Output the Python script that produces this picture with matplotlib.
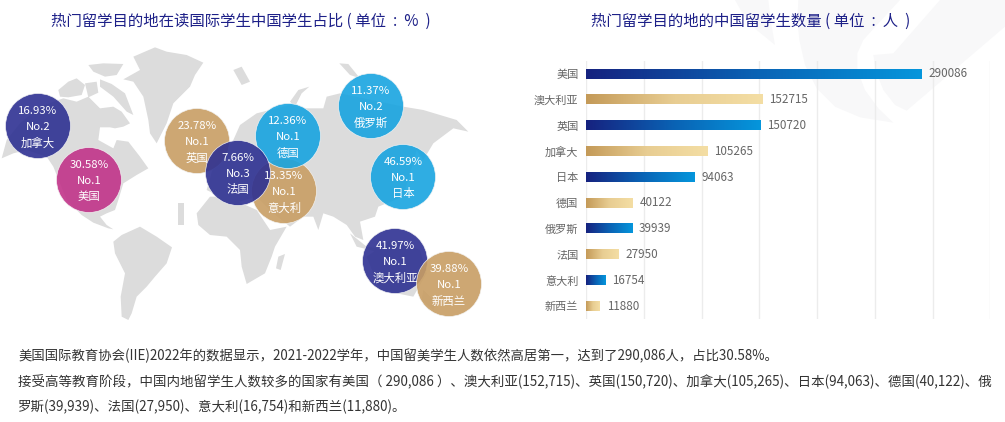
import numpy as np
import matplotlib
matplotlib.use("Agg")
import matplotlib.pyplot as plt
from matplotlib.colors import LinearSegmentedColormap
from matplotlib.patches import Circle, Polygon

plt.rcParams['font.family'] = ['Noto Sans CJK SC', 'DejaVu Sans']

# data
bar_countries = ['美国', '澳大利亚', '英国', '加拿大', '日本', '德国', '俄罗斯', '法国', '意大利', '新西兰']
bar_students = [290086, 152715, 150720, 105265, 94063, 40122, 39939, 27950, 16754, 11880]

bubble_countries = ['英国', '美国', '加拿大', '意大利', '德国', '法国', '俄罗斯', '日本', '澳大利亚', '新西兰']
bubble_shares = ['23.78%', '30.58%', '16.93%', '13.35%', '12.36%', '7.66%', '11.37%', '46.59%', '41.97%', '39.88%']
bubble_ranks = ['No.1', 'No.1', 'No.2', 'No.1', 'No.1', 'No.3', 'No.2', 'No.1', 'No.1', 'No.1']

title_left = '热门留学目的地在读国际学生中国学生占比 ( 单位  :  %  )'
title_right = '热门留学目的地的中国留学生数量 ( 单位  :  人  )'
body_lines = [
    '美国国际教育协会(IIE)2022年的数据显示，2021-2022学年，中国留美学生人数依然高居第一，达到了290,086人，占比30.58%。',
    '接受高等教育阶段，中国内地留学生人数较多的国家有美国（ 290,086 ）、澳大利亚(152,715)、英国(150,720)、加拿大(105,265)、日本(94,063)、德国(40,122)、俄',
    '罗斯(39,939)、法国(27,950)、意大利(16,754)和新西兰(11,880)。',
]

# where the bubbles sit on the map (pixels)
bubble_xy = [(197, 141), (89, 180), (38, 126), (284, 191), (288, 136), (238, 173),
             (371, 106), (403, 177), (395, 261), (449, 284)]
NAVY, PINK, GOLD, BLUE = '#2e3192', '#c13389', '#c89e64', '#18a4e0'
bubble_colors = [GOLD, PINK, NAVY, GOLD, BLUE, NAVY, BLUE, BLUE, NAVY, GOLD]

fig = plt.figure(figsize=(10.05, 4.22), dpi=100, facecolor='white')
bg = fig.add_axes([0, 0, 1, 1])
bg.set_xlim(0, 1005)
bg.set_ylim(422, 0)
bg.axis('off')


def z4(pts):
    return [(x / 3, 40 + y / 3) for x, y in pts]


def z5(pts):
    return [(190 + x / 3, 50 + y / 3) for x, y in pts]


def z2(pts):
    return [(510 + x / 3, y / 3) for x, y in pts]


# faint logo behind the bar chart
logo = [
    [(675, 0), (775, 0), (782, 60), (795, 135), (740, 90), (700, 45)],
    [(865, 0), (862, 60), (868, 120), (885, 195), (920, 265), (975, 320), (1050, 352), (1150, 368),
     (1105, 325), (1065, 270), (1042, 210), (1042, 160), (1060, 120), (1110, 65), (1170, 0)],
    [(1090, 165), (1150, 160), (1290, 0), (1485, 0), (1485, 80), (1190, 332), (1155, 315), (1120, 270), (1098, 215)],
]
for p in logo:
    bg.add_patch(Polygon(z2(p), closed=True, fc='#f8f8f9', ec='none', zorder=0))

# world map backdrop
land = [
    z4([(400, 50), (465, 22), (500, 35), (560, 45), (610, 68), (585, 105), (570, 140), (520, 190), (500, 250),
        (470, 310), (450, 280), (445, 240), (430, 170), (400, 125), (370, 118), (420, 90)]),
    z4([(5, 355), (20, 300), (60, 250), (120, 200), (190, 175), (230, 185), (265, 170), (300, 205), (340, 200),
        (365, 215), (390, 250), (370, 260), (345, 265), (330, 262), (300, 262), (295, 300), (340, 325), (350, 300),
        (385, 305), (420, 350), (445, 385), (410, 405), (370, 430), (355, 480), (345, 510), (320, 520), (300, 530),
        (320, 555), (340, 568), (325, 565), (280, 548), (245, 525), (200, 480), (160, 380), (140, 350), (80, 330),
        (40, 340)]),
    z4([(175, 150), (205, 125), (230, 115), (255, 135), (245, 165), (205, 172), (180, 170)]),
    z4([(265, 75), (310, 70), (370, 72), (350, 105), (315, 110), (280, 95)]),
    z4([(300, 118), (335, 132), (375, 160), (400, 225), (380, 215), (340, 170), (300, 140)]),
    z4([(255, 130), (290, 125), (295, 158), (265, 172)]),
    z4([(340, 605), (365, 585), (420, 560), (470, 590), (516, 622), (500, 670), (465, 710), (440, 740), (410, 770),
        (395, 820), (385, 840), (365, 830), (362, 770), (375, 700), (345, 640)]),
    z4([(535, 490), (552, 490), (552, 556), (535, 556)]),
    z5([(20, 490), (60, 440), (110, 440), (200, 480), (240, 540), (290, 530), (255, 590), (245, 620), (225, 670),
        (170, 702), (155, 650), (150, 600), (110, 560), (60, 555), (25, 525)]),
    z5([(265, 620), (285, 612), (272, 660), (258, 655)]),
    z5([(50, 420), (70, 350), (130, 270), (150, 225), (200, 190), (300, 165), (340, 175), (400, 175), (410, 140),
        (450, 130), (640, 170), (700, 180), (800, 210), (835, 245), (790, 235), (730, 280), (700, 330), (680, 300),
        (640, 440), (565, 470), (555, 500), (510, 515), (520, 570), (495, 560), (470, 525), (430, 500), (400, 490),
        (385, 540), (370, 500), (340, 500), (300, 530), (250, 490), (200, 440), (130, 460)]),
    z5([(300, 155), (325, 120), (358, 110), (335, 130), (315, 170)]),
    z5([(130, 60), (155, 50), (180, 95), (155, 105)]),
    z5([(448, 40), (475, 42), (510, 85), (480, 75)]),
    z5([(480, 550), (530, 590), (600, 600), (560, 605), (500, 590)]),
    z5([(530, 620), (600, 570), (690, 600), (710, 670), (670, 740), (570, 720)]),
    z5([(700, 720), (740, 760), (730, 780), (695, 750)]),
]
for p in land:
    bg.add_patch(Polygon(p, closed=True, fc='#dcdcdc', ec='none', zorder=1))

# bubbles
for i, (x, y) in enumerate(bubble_xy):
    bg.add_patch(Circle((x, y), 32.5, fc=bubble_colors[i], ec='#f4f4f4', lw=0.5, alpha=0.9, zorder=2 + i * 0.01))
for i, (x, y) in enumerate(bubble_xy):
    bg.text(x, y - 15, bubble_shares[i], color='white', fontsize=8.2, ha='center', va='center', zorder=3)
    bg.text(x, y + 1, bubble_ranks[i], color='white', fontsize=8.2, ha='center', va='center', zorder=3)
    bg.text(x, y + 17, bubble_countries[i], color='white', fontsize=8.2, ha='center', va='center', zorder=3)

bg.text(51, 21, title_left, color='#1d2088', fontsize=11.1, ha='left', va='center')
bg.text(591, 21, title_right, color='#1d2088', fontsize=11.1, ha='left', va='center')

for line, size, y in zip(body_lines, [9.6, 9.7, 9.7], [356, 382, 407]):
    bg.text(18, y, line, color='#333333', fontsize=size, ha='left', va='center')

# bar chart
ax = fig.add_axes([586 / 1005, 1 - 319 / 422, 404.3 / 1005, 258 / 422])
ax.patch.set_alpha(0)
blue_map = LinearSegmentedColormap.from_list('blue', ['#16227f', '#0a62b4', '#0596dc'])
gold_map = LinearSegmentedColormap.from_list('gold', ['#c49a58', '#e8cd92', '#f4dea4'])
grad = np.linspace(0, 1, 256).reshape(1, -1)
h = 0.36
for i, v in enumerate(bar_students):
    ax.imshow(grad, extent=[0, v, i + h / 2, i - h / 2], aspect='auto',
              cmap=blue_map if i % 2 == 0 else gold_map, zorder=3)
    ax.text(v + 6000, i, str(v), color='#666666', fontsize=8.4, va='center', ha='left')

ax.set_xlim(0, 350000)
ax.set_ylim(9.5, -0.5)
ax.set_xticks(range(0, 350001, 50000))
ax.set_yticks(range(len(bar_countries)), bar_countries)
ax.tick_params(axis='both', length=0)
ax.tick_params(axis='y', labelsize=8, labelcolor='#666666', pad=5.5)
ax.tick_params(axis='x', labelbottom=False)
ax.grid(axis='x', color='#ececec', lw=1)
ax.set_axisbelow(True)
for s in ax.spines.values():
    s.set_visible(False)

fig.savefig('out.png', dpi=100)
